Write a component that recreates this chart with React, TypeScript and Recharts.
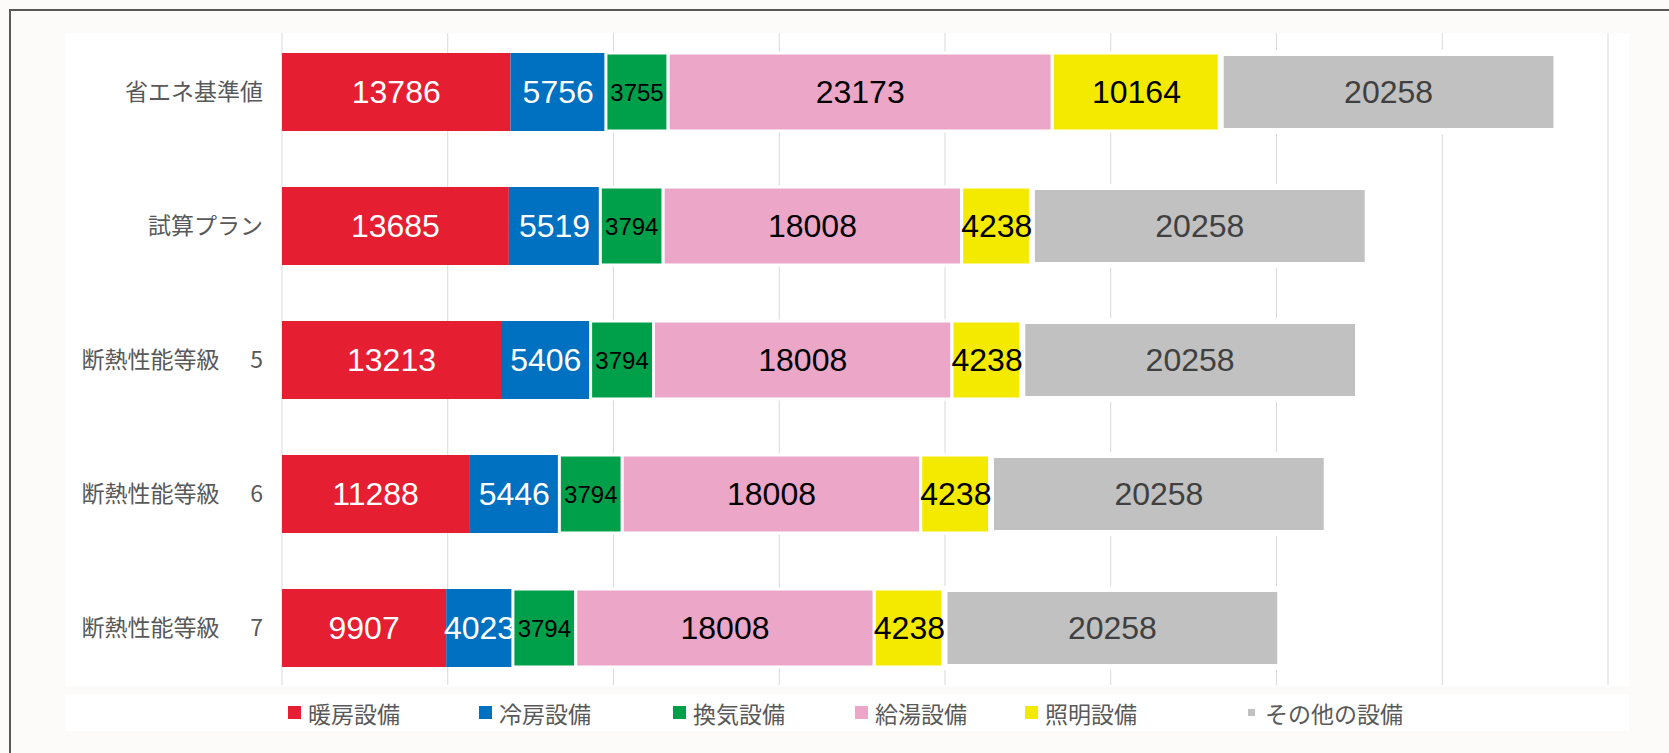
import { BarChart, Bar, XAxis, YAxis, CartesianGrid, Legend, LabelList } from 'recharts'

const CATEGORIES = ['省エネ基準値', '試算プラン', '断熱性能等級　\u20045', '断熱性能等級　\u20046', '断熱性能等級　\u20047']
const HEATING = [13786, 13685, 13213, 11288, 9907]
const COOLING = [5756, 5519, 5406, 5446, 4023]
const VENTILATION = [3755, 3794, 3794, 3794, 3794]
const HOT_WATER = [23173, 18008, 18008, 18008, 18008]
const LIGHTING = [10164, 4238, 4238, 4238, 4238]
const OTHER = [20258, 20258, 20258, 20258, 20258]
const X_TICKS = [0, 10000, 20000, 30000, 40000, 50000, 60000, 70000, 80000]

const SERIES = [
  { key: 'heating', name: '暖房設備', values: HEATING },
  { key: 'cooling', name: '冷房設備', values: COOLING },
  { key: 'ventilation', name: '換気設備', values: VENTILATION },
  { key: 'hotWater', name: '給湯設備', values: HOT_WATER },
  { key: 'lighting', name: '照明設備', values: LIGHTING },
  { key: 'other', name: 'その他の設備', values: OTHER },
]

// look of each series, same order as SERIES
const STYLES = [
  { fill: '#e61e32', text: '#ffffff', size: 32, stroke: 'none', sw: 0, box: 13, w: 191 },
  { fill: '#0070c0', text: '#ffffff', size: 32, stroke: 'none', sw: 0, box: 13, w: 194 },
  { fill: '#00a04a', text: '#000000', size: 24, stroke: '#ffffff', sw: 3, box: 13, w: 182 },
  { fill: '#eba6c8', text: '#000000', size: 32, stroke: '#ffffff', sw: 3, box: 13, w: 170 },
  { fill: '#f4ea00', text: '#000000', size: 32, stroke: '#ffffff', sw: 3, box: 13, w: 220 },
  { fill: '#c0c1c0', text: '#404040', size: 32, stroke: '#ffffff', sw: 6, box: 7, w: 200 },
]

const CJK = '"Noto Sans CJK JP", "Noto Sans", sans-serif'
const NUM = '"Liberation Sans", Arial, sans-serif'

function LegendBox() {
  return (
    <div style={{ display: 'flex', alignItems: 'center', height: 37, paddingLeft: 223, boxSizing: 'border-box' }}>
      {SERIES.map((s, i) => (
        <div key={s.key} style={{ display: 'flex', alignItems: 'center', width: STYLES[i].w }}>
          <span style={{
            width: STYLES[i].box, height: STYLES[i].box, background: STYLES[i].fill,
            marginRight: STYLES[i].box === 13 ? 7 : 10, marginLeft: STYLES[i].box === 13 ? 0 : 3,
          }} />
          <span style={{ fontFamily: CJK, fontSize: 23, color: '#595959', whiteSpace: 'nowrap' }}>{s.name}</span>
        </div>
      ))}
    </div>
  )
}

export default function App() {
  const data = CATEGORIES.map((name, i) => {
    const row: Record<string, string | number> = { name }
    SERIES.forEach(s => { row[s.key] = s.values[i] })
    return row
  })

  return (
    <div style={{ position: 'absolute', left: 0, top: 0, width: 1669, height: 753, background: '#fcfbf9', overflow: 'hidden' }}>
      <div style={{ position: 'absolute', left: 9, top: 9, width: 1700, height: 800, borderTop: '2px solid #5b5757', borderLeft: '2px solid #5b5757' }} />
      <div style={{ position: 'absolute', left: 65, top: 33, width: 1564, height: 653, background: '#ffffff' }} />
      <div style={{ position: 'absolute', left: 65, top: 694, width: 1564, height: 37, background: '#ffffff' }} />
      <div style={{ position: 'absolute', left: 0, top: 0 }}>
        <BarChart layout="vertical" width={1669} height={753} data={data}
          margin={{ top: 25, right: 61, bottom: 21, left: 0 }}>
          <CartesianGrid horizontal={false} stroke="#d9d9d9" y={33} height={652} />
          <XAxis type="number" domain={[0, 80000]} ticks={X_TICKS} hide />
          <YAxis type="category" dataKey="name" width={282} interval={0}
            axisLine={false} tickLine={false} tickMargin={13}
            tick={{ fill: '#595959', fontSize: 23, fontFamily: CJK }} />
          <Legend verticalAlign="bottom" align="left" content={<LegendBox />}
            wrapperStyle={{ left: 65, width: 1564, height: 37, bottom: 22 }} />
          {SERIES.map((s, i) => (
            <Bar key={s.key} dataKey={s.key} name={s.name} stackId="a" barSize={78}
              fill={STYLES[i].fill} stroke={STYLES[i].stroke} strokeWidth={STYLES[i].sw}
              isAnimationActive={false}>
              <LabelList dataKey={s.key} position="center" fill={STYLES[i].text}
                fontSize={STYLES[i].size} fontFamily={NUM} />
            </Bar>
          ))}
        </BarChart>
      </div>
    </div>
  )
}
